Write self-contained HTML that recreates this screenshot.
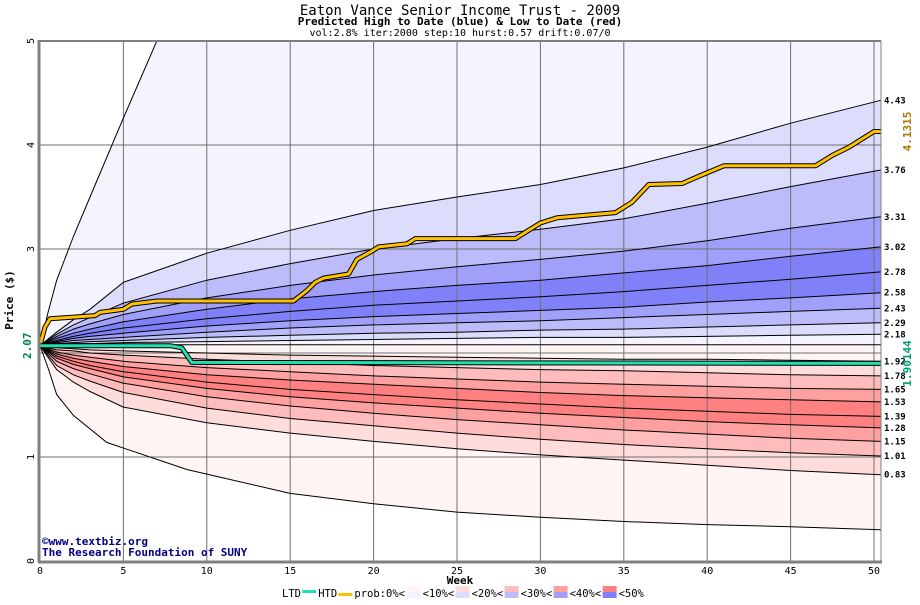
<!DOCTYPE html>
<html><head><meta charset="utf-8"><style>
body{margin:0;background:#fff;}
svg text{font-family:"DejaVu Sans Mono","Liberation Mono",monospace;}
</style></head><body>
<svg id="chart" width="920" height="600" viewBox="0 0 920 600" xmlns="http://www.w3.org/2000/svg">
<defs><clipPath id="plotclip"><rect x="40" y="41" width="841" height="520"/></clipPath></defs>
<text x="460" y="15" text-anchor="middle" font-size="14">Eaton Vance Senior Income Trust - 2009</text>
<text x="460" y="25" text-anchor="middle" font-size="11" font-weight="bold">Predicted High to Date (blue) &amp;  Low to Date (red)</text>
<text x="460" y="36" text-anchor="middle" font-size="10">vol:2.8% iter:2000 step:10 hurst:0.57 drift:0.07/0</text>
<g id="bands" clip-path="url(#plotclip)"></g>
<g id="grid"></g>
<g id="lines" clip-path="url(#plotclip)"></g>
<g id="series" clip-path="url(#plotclip)"></g>
<g id="axes"></g>
<text x="42" y="545" font-size="11" font-weight="bold" fill="#000080">©www.textbiz.org</text>
<text x="42" y="556" font-size="11" font-weight="bold" fill="#000080">The Research Foundation of SUNY</text>
<text x="460" y="584" text-anchor="middle" font-size="11" font-weight="bold">Week</text>
<text transform="translate(13,300) rotate(-90)" text-anchor="middle" font-size="11" font-weight="bold">Price ($)</text>
<g id="legend"></g>
</svg>
<script>
const weeks = [0,1,2,3,5,10,15,20,25,30,35,40,45,50.4];
const q443 = [2.07,2.2,2.32,2.42,2.68,2.96,3.18,3.37,3.5,3.62,3.78,3.98,4.21,4.43];
const q376 = [2.07,2.18,2.27,2.34,2.48,2.7,2.86,3.0,3.1,3.19,3.29,3.44,3.6,3.76];
const q331 = [2.07,2.16,2.23,2.28,2.37,2.53,2.65,2.75,2.83,2.9,2.98,3.08,3.2,3.31];
const q302 = [2.07,2.14,2.19,2.23,2.3,2.42,2.52,2.59,2.65,2.7,2.77,2.84,2.93,3.02];
const q278 = [2.07,2.12,2.16,2.19,2.24,2.33,2.4,2.46,2.5,2.54,2.59,2.65,2.71,2.78];
const q258 = [2.07,2.11,2.14,2.16,2.19,2.26,2.31,2.35,2.38,2.41,2.44,2.49,2.53,2.58];
const q243 = [2.07,2.1,2.12,2.13,2.15,2.2,2.24,2.27,2.29,2.31,2.34,2.37,2.4,2.43];
const q229 = [2.07,2.09,2.1,2.11,2.12,2.15,2.17,2.19,2.2,2.22,2.23,2.25,2.27,2.29];
const q218 = [2.07,2.08,2.09,2.09,2.1,2.11,2.12,2.13,2.14,2.15,2.15,2.16,2.17,2.18];
const qmid = [2.07,2.08,2.08,2.08,2.08,2.08,2.08,2.08,2.08,2.08,2.08,2.08,2.08,2.08];
const q192 = [2.07,2.05,2.04,2.03,2.02,2.0,1.98,1.97,1.96,1.95,1.94,1.94,1.93,1.92];
const q178 = [2.07,2.03,2.02,2.0,1.98,1.94,1.91,1.88,1.86,1.84,1.83,1.81,1.79,1.78];
const q165 = [2.07,2.01,1.98,1.96,1.92,1.86,1.82,1.78,1.75,1.72,1.7,1.68,1.66,1.65];
const q153 = [2.07,1.99,1.95,1.92,1.87,1.79,1.74,1.7,1.66,1.62,1.59,1.57,1.55,1.53];
const q139 = [2.07,1.97,1.92,1.88,1.82,1.72,1.65,1.6,1.55,1.51,1.47,1.44,1.41,1.39];
const q128 = [2.07,1.95,1.89,1.85,1.77,1.66,1.58,1.52,1.47,1.42,1.38,1.34,1.31,1.28];
const q115 = [2.07,1.92,1.85,1.8,1.71,1.58,1.49,1.42,1.36,1.31,1.26,1.22,1.18,1.15];
const q101 = [2.07,1.88,1.79,1.73,1.62,1.47,1.37,1.3,1.23,1.17,1.12,1.08,1.04,1.01];
const q083 = [2.07,1.84,1.72,1.63,1.48,1.33,1.23,1.15,1.08,1.02,0.97,0.92,0.87,0.83];
const outerHighWeeks = [0,0.5,1,2,3,5,7,8];
const outerHigh = [2.07,2.4,2.7,3.12,3.5,4.26,5.0,5.35];
const outerLowWeeks = [0,0.5,1,2,4,8.8,15,20,25,30,35,40,45,50.4];
const outerLow = [2.07,1.85,1.6,1.4,1.14,0.88,0.65,0.55,0.47,0.42,0.38,0.35,0.33,0.3];
const endLabels = ["4.43","3.76","3.31","3.02","2.78","2.58","2.43","2.29","2.18","1.92","1.78","1.65","1.53","1.39","1.28","1.15","1.01","0.83"];
const htdWeeks = [0,0.3,0.6,3.3,3.6,5,5.5,7,15.2,16,16.5,17,18.5,19,19.8,20.3,22,22.5,28.5,29,30,31,34.5,35.5,36.5,38.5,39.5,41,46.5,47.5,48.5,50,50.4];
const htdVals = [2.07,2.25,2.33,2.36,2.39,2.42,2.47,2.5,2.5,2.6,2.68,2.72,2.76,2.9,2.97,3.02,3.05,3.1,3.1,3.15,3.25,3.3,3.35,3.45,3.62,3.63,3.7,3.8,3.8,3.9,3.98,4.13,4.13];
const ltdWeeks = [0,7.8,8.5,9.1,50.4];
const ltdVals = [2.07,2.07,2.05,1.91,1.9];
const xTicks = [0,5,10,15,20,25,30,35,40,45,50];
const yTicks = [0,1,2,3,4,5];

const NS="http://www.w3.org/2000/svg";
const X = w => 40 + w*16.68;
const Y = p => 561 - p*104;
function mk(tag, attrs, parent){const e=document.createElementNS(NS,tag);for(const k in attrs)e.setAttribute(k,attrs[k]);parent.appendChild(e);return e;}
const C = a => weeks.map((w,i)=>[w,a[i]]);
const curves = [
 outerHighWeeks.map((w,i)=>[w,outerHigh[i]]),
 C(q443),C(q376),C(q331),C(q302),C(q278),C(q258),C(q243),C(q229),C(q218),C(qmid),
 C(q192),C(q178),C(q165),C(q153),C(q139),C(q128),C(q115),C(q101),C(q083),
 outerLowWeeks.map((w,i)=>[w,outerLow[i]])
];
const bandColors = ["#f4f4fe","#dcdcfc","#bcbcfa","#a0a0fa","#8080f8","#8080f8","#a0a0fa","#bcbcfa","#dcdcfc","#f4f4fe",
 "#fff4f4","#ffdcdc","#ffbcbc","#ffa0a0","#ff8080","#ff8080","#ffa0a0","#ffbcbc","#ffdcdc","#fff4f4"];
const bands=document.getElementById('bands');
for(let i=0;i<curves.length-1;i++){
  let a=curves[i], b=curves[i+1];
  if(i===0){a=a.concat([[50.4,5.35]]);}
  const pts=a.concat(b.slice().reverse()).map(p=>X(p[0]).toFixed(1)+","+Y(p[1]).toFixed(1)).join(" ");
  const pg=mk('polygon',{points:pts,fill:bandColors[i]},bands);
  
  
}
const grid=document.getElementById('grid');
xTicks.forEach(t=>{const l=mk('line',{x1:X(t),x2:X(t),y1:41,y2:561,stroke:'#707070','stroke-width':1},grid);
 
 });
yTicks.forEach(t=>{const l=mk('line',{x1:40,x2:881,y1:Y(t),y2:Y(t),stroke:'#707070','stroke-width':1},grid);
 
 });
const lines=document.getElementById('lines');
curves.forEach((c,i)=>{
  const p=mk('polyline',{points:c.map(q=>X(q[0]).toFixed(1)+","+Y(q[1]).toFixed(1)).join(" "),fill:'none',stroke:'#000','stroke-width':1},lines);
  
  
});
const series=document.getElementById('series');
function step(ws,vs){return ws.map((w,i)=>X(w).toFixed(1)+","+Y(vs[i]).toFixed(1)).join(" ");}
const h1=mk('polyline',{points:step(htdWeeks,htdVals),fill:'none',stroke:'#000','stroke-width':5,'stroke-linejoin':'round'},series);


const h2=mk('polyline',{points:step(htdWeeks,htdVals),fill:'none',stroke:'#ffc000','stroke-width':3,'stroke-linejoin':'round'},series);


const l1=mk('polyline',{points:step(ltdWeeks,ltdVals),fill:'none',stroke:'#000','stroke-width':5,'stroke-linejoin':'round'},series);


const l2=mk('polyline',{points:step(ltdWeeks,ltdVals),fill:'none',stroke:'#20e0b0','stroke-width':3,'stroke-linejoin':'round'},series);


const axes=document.getElementById('axes');
mk('rect',{x:40,y:41,width:841,height:520,fill:'none',stroke:'#808080','stroke-width':1},axes);
mk('line',{x1:39,x2:39,y1:40,y2:562,stroke:'#808080','stroke-width':3},axes);
mk('line',{x1:38,x2:882,y1:562,y2:562,stroke:'#808080','stroke-width':3},axes);
mk('line',{x1:40,x2:881,y1:41,y2:41,stroke:'#808080','stroke-width':2},axes);
xTicks.forEach(t=>{const tx=mk('text',{x:X(t),y:574,'text-anchor':'middle','font-size':10},axes);tx.textContent=t;
 
 });
yTicks.forEach(t=>{if(t===2)return;const tx=mk('text',{transform:`translate(34,${Y(t)}) rotate(-90)`,'text-anchor':'middle','font-size':10},axes);tx.textContent=t;
 
 });
const endCurves=[q443,q376,q331,q302,q278,q258,q243,q229,q218,q192,q178,q165,q153,q139,q128,q115,q101,q083];
endCurves.forEach((c,i)=>{const tx=mk('text',{x:884,y:Y(c[c.length-1])+3,'font-size':9,'font-weight':'bold'},axes);tx.textContent=endLabels[i];
 
 });
const hl=mk('text',{transform:`translate(911,${Y(htdVals[htdVals.length-1])}) rotate(-90)`,'text-anchor':'middle','font-size':11,'font-weight':'bold',fill:'#b07800'},axes);hl.textContent="4.1315";


const ll=mk('text',{transform:`translate(911,${Y(ltdVals[ltdVals.length-1])}) rotate(-90)`,'text-anchor':'middle','font-size':11,'font-weight':'bold',fill:'#00a070'},axes);ll.textContent="1.90144";


const sl=mk('text',{transform:`translate(31,${Y(2.07)}) rotate(-90)`,'text-anchor':'middle','font-size':11,'font-weight':'bold',fill:'#008050'},axes);sl.textContent="2.07";


// legend
const lg=document.getElementById('legend');
let lx=282;
function lt(s){const t=mk('text',{x:lx,y:597,'font-size':10.5},lg);t.textContent=s;
 
 
 lx+=s.length*6.4;}
lt("LTD");
const r1=mk('rect',{x:lx+1,y:590,width:14,height:3,fill:'#20e0b0'},lg);lx+=17;
lt("HTD");
const r2=mk('rect',{x:lx+1,y:593,width:14,height:3,fill:'#ffc000'},lg);lx+=17;
lt("prob:0%<");
const legPairs=[["#fff4f4","#f4f4fe","<10%<"],["#ffdcdc","#dcdcfc","<20%<"],["#ffbcbc","#bcbcfa","<30%<"],["#ffa0a0","#a0a0fa","<40%<"],["#ff8080","#8080f8","<50%"]];
legPairs.forEach(p=>{
  const a=mk('rect',{x:lx+1,y:586,width:14,height:6,fill:p[0]},lg);
  const b=mk('rect',{x:lx+1,y:592,width:14,height:6,fill:p[1]},lg);
  lx+=17; lt(p[2]);
});
</script>
</body></html>
